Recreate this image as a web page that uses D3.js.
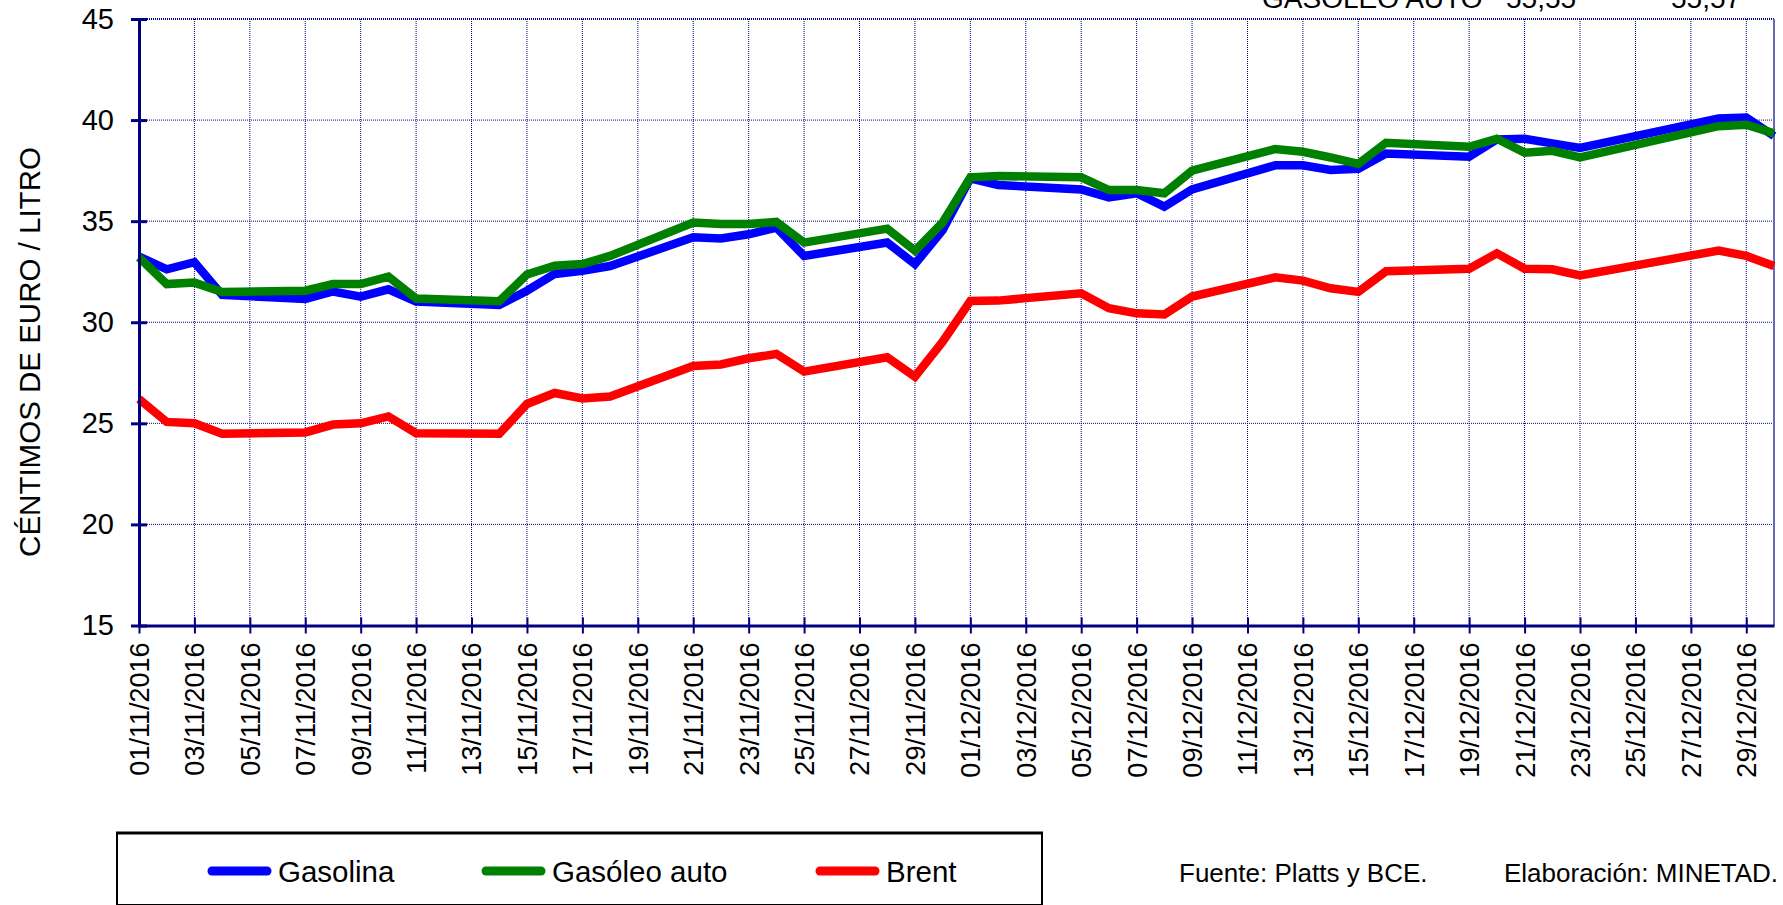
<!DOCTYPE html>
<html><head><meta charset="utf-8">
<script src="https://cdn.jsdelivr.net/npm/d3@7"></script>
<style>
body{margin:0;background:#fff;overflow:hidden}
svg{display:block}
text{font-family:"Liberation Sans",Arial,sans-serif;fill:#000}
</style>
</head><body>
<svg id="c" width="1783" height="905"></svg>
<script>
// ---- data ----
const dates = [
 "01/11/2016","02/11/2016","03/11/2016","04/11/2016","07/11/2016","08/11/2016","09/11/2016","10/11/2016","11/11/2016",
 "14/11/2016","15/11/2016","16/11/2016","17/11/2016","18/11/2016","21/11/2016","22/11/2016","23/11/2016","24/11/2016",
 "25/11/2016","28/11/2016","29/11/2016","30/11/2016",
 "01/12/2016","02/12/2016","05/12/2016","06/12/2016","07/12/2016","08/12/2016","09/12/2016","12/12/2016","13/12/2016",
 "14/12/2016","15/12/2016","16/12/2016","19/12/2016","20/12/2016","21/12/2016","22/12/2016","23/12/2016","28/12/2016",
 "29/12/2016","30/12/2016"];
const gasolina = [
 33.25,32.62,32.97,31.35,31.15,31.52,31.27,31.63,31.02,30.86,31.56,32.39,32.55,32.78,34.20,34.14,34.35,34.68,33.28,33.94,32.88,34.56,
 37.12,36.79,36.57,36.18,36.38,35.72,36.57,37.76,37.76,37.53,37.59,38.35,38.19,39.04,39.08,38.85,38.62,40.08,40.13,39.21];
const gasoleo = [
 33.21,31.89,31.96,31.50,31.56,31.89,31.89,32.26,31.17,31.04,32.36,32.80,32.88,33.28,34.93,34.86,34.86,34.96,33.94,34.63,33.54,34.93,
 37.17,37.23,37.17,36.54,36.54,36.38,37.50,38.57,38.43,38.15,37.83,38.88,38.68,39.08,38.39,38.48,38.15,39.70,39.77,39.34];
const brent = [
 26.20,25.07,25.00,24.48,24.55,24.94,25.00,25.34,24.51,24.48,25.96,26.50,26.23,26.33,27.84,27.91,28.22,28.43,27.56,28.27,27.31,29.04,
 31.05,31.07,31.43,30.69,30.44,30.38,31.27,32.22,32.06,31.68,31.50,32.52,32.65,33.41,32.65,32.62,32.32,33.54,33.28,32.78];
const xTickLabels = [
 "01/11/2016","03/11/2016","05/11/2016","07/11/2016","09/11/2016","11/11/2016","13/11/2016","15/11/2016","17/11/2016",
 "19/11/2016","21/11/2016","23/11/2016","25/11/2016","27/11/2016","29/11/2016","01/12/2016","03/12/2016","05/12/2016",
 "07/12/2016","09/12/2016","11/12/2016","13/12/2016","15/12/2016","17/12/2016","19/12/2016","21/12/2016","23/12/2016",
 "25/12/2016","27/12/2016","29/12/2016"];
const xDomain = ["01/11/2016","30/12/2016"];
const yTicks = [15,20,25,30,35,40,45];
const seriesNames = ["Gasolina","Gasóleo auto","Brent"];
const seriesColors = ["#0000ff","#008000","#ff0000"];
const yLabel = "CÉNTIMOS DE EURO / LITRO";
const headerTexts = ["GASÓLEO AUTO","55,55","55,57"];
const sourceText = "Fuente: Platts y BCE.";
const authorText = "Elaboración: MINETAD.";

// ---- drawing ----
const parse = d3.utcParse("%d/%m/%Y");
const svg = d3.select("#c");
const L = 139, R = 1774, T = 19, B = 625.5;
const x = d3.scaleUtc().domain(xDomain.map(parse)).range([L, R]);
const y = d3.scaleLinear().domain([15,45]).range([B, T]);
const navy = "#000080";

// header (clipped at top, as in the original)
const hx = [1262, 1506, 1671];
headerTexts.forEach((t,i)=>svg.append("text").attr("x",hx[i]).attr("y",8).attr("font-size",28).text(t));

// grid
const g = svg.append("g");
g.selectAll(".hg").data(yTicks.filter(v=>v>15 && v<45)).join("line")
  .attr("x1",L).attr("x2",R).attr("y1",d=>y(d)).attr("y2",d=>y(d))
  .attr("stroke",navy).attr("stroke-width",1).attr("stroke-dasharray","1,1");
g.selectAll(".vg").data(xTickLabels.slice(1)).join("line")
  .attr("x1",d=>x(parse(d))).attr("x2",d=>x(parse(d))).attr("y1",T).attr("y2",B)
  .attr("stroke",navy).attr("stroke-width",1).attr("stroke-dasharray","1,1");
g.append("line").attr("x1",L).attr("x2",R).attr("y1",y(45)).attr("y2",y(45))
  .attr("stroke",navy).attr("stroke-width",2).attr("stroke-dasharray","1,1");
g.append("line").attr("x1",R).attr("x2",R).attr("y1",T).attr("y2",B)
  .attr("stroke","#6a6ab4").attr("stroke-width",2);

// series
const line = d3.line().x((d,i)=>x(parse(dates[i]))).y(d=>y(d));
[gasolina, gasoleo, brent].forEach((s,k)=>{
  svg.append("path").datum(s).attr("d",line).attr("fill","none")
    .attr("stroke",seriesColors[k]).attr("stroke-width",8.5).attr("stroke-linejoin","miter").attr("stroke-miterlimit",3);
});

// y axis
const yAxis = d3.axisLeft(y).tickValues(yTicks).tickSize(0).tickPadding(25).tickFormat(d3.format("d"));
const ya = svg.append("g").attr("transform",`translate(${L},0)`).call(yAxis);
ya.select(".domain").attr("stroke",navy).attr("stroke-width",3);
ya.selectAll(".tick text").attr("font-size",29).attr("font-family","Liberation Sans, Arial, sans-serif").attr("fill","#000");
ya.selectAll(".tick").append("line").attr("x1",-8).attr("x2",8).attr("stroke",navy).attr("stroke-width",3);

// x axis
const xAxis = d3.axisBottom(x).tickValues(xTickLabels.map(parse)).tickSize(0).tickFormat(d3.utcFormat("%d/%m/%Y"));
const xa = svg.append("g").attr("transform",`translate(0,${B})`).call(xAxis);
xa.select(".domain").attr("stroke",navy).attr("stroke-width",3);
xa.selectAll(".tick").append("line").attr("y1",-8).attr("y2",8).attr("stroke",navy).attr("stroke-width",2);
xa.selectAll(".tick text").attr("font-size",27).attr("font-family","Liberation Sans, Arial, sans-serif").attr("fill","#000")
  .attr("transform","rotate(-90)").attr("text-anchor","end").attr("x",-17).attr("y",0).attr("dy","0.35em");

// y label
svg.append("text").attr("transform","translate(40,352) rotate(-90)").attr("text-anchor","middle")
  .attr("font-size",29.5).text(yLabel);

// legend
svg.append("rect").attr("x",117).attr("y",833).attr("width",925).attr("height",72)
  .attr("fill","none").attr("stroke","#000").attr("stroke-width",2);
svg.append("line").attr("x1",116).attr("x2",1043).attr("y1",833).attr("y2",833).attr("stroke","#000").attr("stroke-width",3);
const lx = [212, 486, 820];
seriesNames.forEach((n,i)=>{
  svg.append("line").attr("x1",lx[i]).attr("x2",lx[i]+55).attr("y1",871).attr("y2",871)
    .attr("stroke",seriesColors[i]).attr("stroke-width",9).attr("stroke-linecap","round");
  svg.append("text").attr("x",lx[i]+66).attr("y",882).attr("font-size",29.5).text(n);
});

// footer
svg.append("text").attr("x",1179).attr("y",882).attr("font-size",26).text(sourceText);
svg.append("text").attr("x",1504).attr("y",882).attr("font-size",26).text(authorText);
</script>
</body></html>
